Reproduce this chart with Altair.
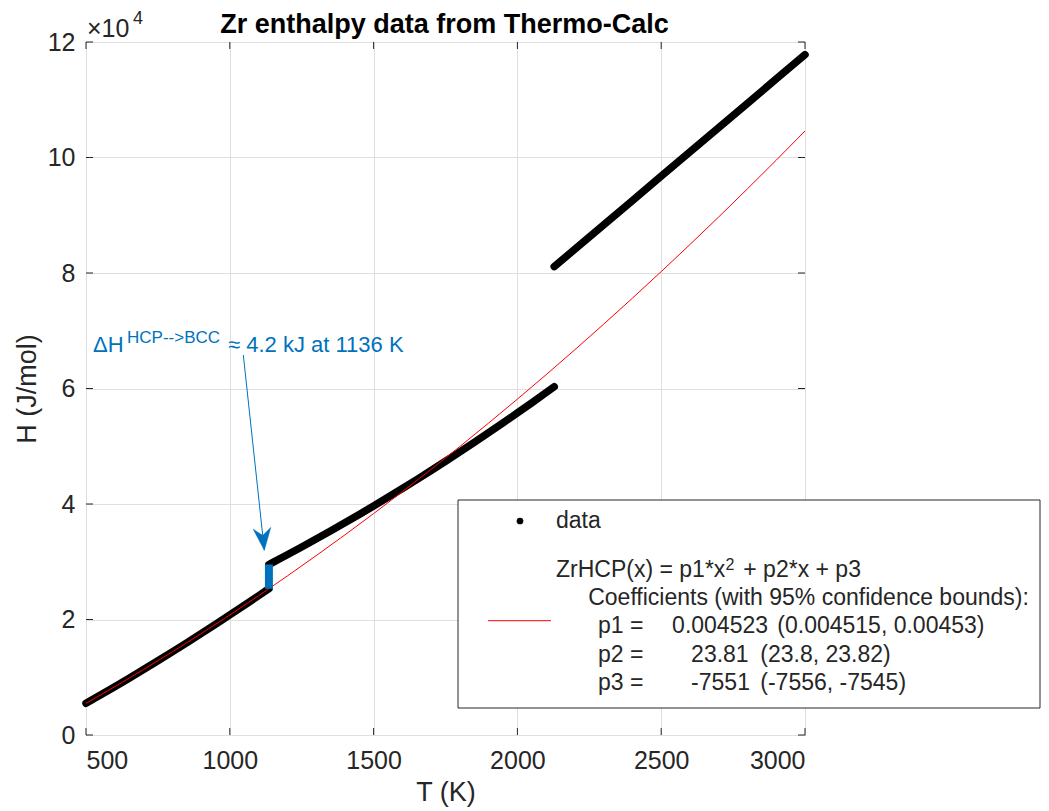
import altair as alt
import pandas as pd

# ---------------- data ----------------
hcp_T = [500, 550, 600, 650, 700, 750, 800, 850, 900, 950, 1000, 1050, 1100, 1136]
hcp_H = [5485, 6913, 8363, 9836, 11332, 12851, 14392, 15955, 17542, 19150, 20782, 22436, 24113, 25334]

bcc_T = [1136, 1150, 1200, 1250, 1300, 1350, 1400, 1450, 1500, 1550, 1600, 1650, 1700,
         1750, 1800, 1850, 1900, 1950, 2000, 2050, 2100, 2128]
bcc_H = [29530, 29895, 31214, 32559, 33928, 35324, 36744, 38191, 39662, 41159, 42681, 44228, 45800,
         47399, 49022, 50672, 52345, 54045, 55770, 57520, 59295, 60300]

liq_T = [2128, 2200, 2300, 2400, 2500, 2600, 2700, 2800, 2900, 3000]
liq_H = [81100, 84130, 88340, 92550, 96760, 100970, 105180, 109390, 113600, 117800]

fit_T = [500, 600, 700, 800, 900, 1000, 1100, 1200, 1300, 1400, 1500, 1600, 1700,
         1800, 1900, 2000, 2100, 2200, 2300, 2400, 2500, 2600, 2700, 2800, 2900, 3000]
fit_H = [5485, 8363, 11332, 14392, 17542, 20782, 24113, 27534, 31046, 34648, 38341, 42124, 45998,
         49962, 54016, 58161, 62396, 66722, 71139, 75645, 80243, 84931, 89709, 94578, 99536, 104586]

x_ticks = [500, 1000, 1500, 2000, 2500, 3000]
y_ticks = [0, 20000, 40000, 60000, 80000, 100000, 120000]

trans_T = [1136]
trans_H_low = [25334]
trans_H_high = [29530]

arrow_T = [1047, 1120]
arrow_H = [65800, 32000]

title_text = "Zr enthalpy data from Thermo-Calc"
coef_header = "Coefficients (with 95% confidence bounds):"
coef_names = ["p1 =", "p2 =", "p3 ="]
coef_vals = ["0.004523", "23.81", "-7551"]
coef_bounds = ["(0.004515, 0.00453)", "(23.8, 23.82)", "(-7556, -7545)"]

# ---------------- styling ----------------
FONT = "Liberation Sans"
DARK = "#262626"
BLUE = "#0072BD"
W, H = 719, 693

data_df = pd.DataFrame({
    "T": hcp_T + bcc_T + liq_T,
    "H": hcp_H + bcc_H + liq_H,
    "phase": ["HCP"] * len(hcp_T) + ["BCC"] * len(bcc_T) + ["LIQ"] * len(liq_T),
})
fit_df = pd.DataFrame({"T": fit_T, "H": fit_H})
xt_df = pd.DataFrame({"T": x_ticks})
yt_df = pd.DataFrame({"H": y_ticks})
bar_df = pd.DataFrame({"T": trans_T, "H": trans_H_low, "H2": trans_H_high})
arr_df = pd.DataFrame({"T": [arrow_T[0]], "H": [arrow_H[0]], "T2": [arrow_T[1]], "H2": [arrow_H[1]]})
tip_df = pd.DataFrame({"T": [arrow_T[1]], "H": [arrow_H[1]]})

xscale = alt.Scale(domain=[500, 3000], nice=False, zero=False)
yscale = alt.Scale(domain=[0, 120000], nice=False, zero=False)

X = alt.X("T:Q", scale=xscale, title="T (K)",
          axis=alt.Axis(values=x_ticks, grid=True, ticks=False, domain=False,
                        labelPadding=13, titlePadding=6, format="d"))
Y = alt.Y("H:Q", scale=yscale, title="H (J/mol)",
          axis=alt.Axis(values=y_ticks, grid=True, ticks=False, domain=False,
                        labelPadding=11, titlePadding=6,
                        labelExpr="datum.value / 10000"))

# inner tick marks on all four sides
xt_bot = alt.Chart(xt_df).mark_rule(color=DARK, strokeWidth=1).encode(
    x=X, y=alt.value(H - 7), y2=alt.value(H))
xt_top = alt.Chart(xt_df).mark_rule(color=DARK, strokeWidth=1).encode(
    x=X, y=alt.value(0), y2=alt.value(7))
yt_left = alt.Chart(yt_df).mark_rule(color=DARK, strokeWidth=1).encode(
    y=Y, x=alt.value(0), x2=alt.value(7))
yt_right = alt.Chart(yt_df).mark_rule(color=DARK, strokeWidth=1).encode(
    y=Y, x=alt.value(W - 7), x2=alt.value(W))

data_line = alt.Chart(data_df).mark_line(
    color="black", strokeWidth=7.5, strokeCap="round", strokeJoin="round"
).encode(x=X, y=Y, detail="phase:N", order="T:Q")

fit_line = alt.Chart(fit_df).mark_line(
    color="#FF0000", strokeWidth=1, interpolate="monotone"
).encode(x=X, y=Y)

bar = alt.Chart(bar_df).mark_rule(color=BLUE, strokeWidth=8).encode(
    x=X, y=Y, y2="H2")

arrow = alt.Chart(arr_df).mark_rule(color=BLUE, strokeWidth=1).encode(
    x=X, y=Y, x2="T2", y2="H2")
tip = alt.Chart(tip_df).mark_point(
    shape="M0,0 L-0.8,-2 L0,-1.35 L0.8,-2 Z", filled=True, fill=BLUE, stroke=BLUE,
    strokeWidth=0.5, opacity=1, size=484, angle=354
).encode(x=X, y=Y)


def txt(s, x, y, size, color=DARK, weight="normal", align="left", baseline="alphabetic"):
    return alt.Chart(alt.Data(values=[{}])).mark_text(
        text=s, align=align, baseline=baseline, fontSize=size, font=FONT,
        color=color, fontWeight=weight
    ).encode(x=alt.value(x), y=alt.value(y))


title = txt(title_text, W / 2 - 1, -9, 27, color="black", weight="bold", align="center")

ann = [
    txt("\u0394H", 7, 310, 22, BLUE),
    txt("HCP-->BCC", 41, 301, 17, BLUE),
    txt("\u2248 4.2 kJ at 1136 K", 142, 310, 22, BLUE),
]

expo = [
    txt("\u00d710", 1, -5, 25),
    txt("4", 47, -18, 18),
]

# legend (drawn box with entries)
LF = 23
leg_box = alt.Chart(alt.Data(values=[{}])).mark_rect(
    fill="white", stroke=DARK, strokeWidth=1
).encode(x=alt.value(372), x2=alt.value(954), y=alt.value(458), y2=alt.value(666))
leg_dot = alt.Chart(alt.Data(values=[{}])).mark_point(
    shape="circle", filled=True, color="black", size=45, opacity=1
).encode(x=alt.value(434), y=alt.value(479))
leg_red = alt.Chart(alt.Data(values=[{}])).mark_rule(color="#FF0000", strokeWidth=1).encode(
    x=alt.value(402), x2=alt.value(465), y=alt.value(578.7))

leg_txt = [
    txt("data", 470, 486.3, LF),
    txt("ZrHCP(x) = p1*x", 470, 534.7, LF),
    txt("2", 639.5, 528, 16),
    txt("+ p2*x + p3", 657.3, 534.7, LF),
    txt(coef_header, 502.2, 563, LF),
]
val_x = [586.1, 605.1, 605.1]
bnd_x = [691.3, 674.3, 674.3]
for i in range(3):
    yb = 591.3 + i * 28.4
    leg_txt.append(txt(coef_names[i], 512, yb, LF))
    leg_txt.append(txt(coef_vals[i], val_x[i], yb, LF))
    leg_txt.append(txt(coef_bounds[i], bnd_x[i], yb, LF))

chart = alt.layer(
    xt_bot, xt_top, yt_left, yt_right,
    data_line, fit_line, bar, arrow, tip,
    title, *ann, *expo,
    leg_box, leg_dot, leg_red, *leg_txt,
).properties(
    width=W, height=H,
    autosize=alt.AutoSizeParams(type="none"),
    padding={"left": 78, "top": 34, "right": 236, "bottom": 72},
).configure_view(
    stroke=DARK, strokeWidth=1
).configure_axis(
    labelFont=FONT, titleFont=FONT, labelFontSize=25, titleFontSize=27,
    labelColor=DARK, titleColor=DARK, titleFontWeight="normal",
    gridColor="#DFDFDF", gridWidth=1, gridOpacity=1,
)

chart.save("out.html", embed_options={"renderer": "svg", "actions": False})
